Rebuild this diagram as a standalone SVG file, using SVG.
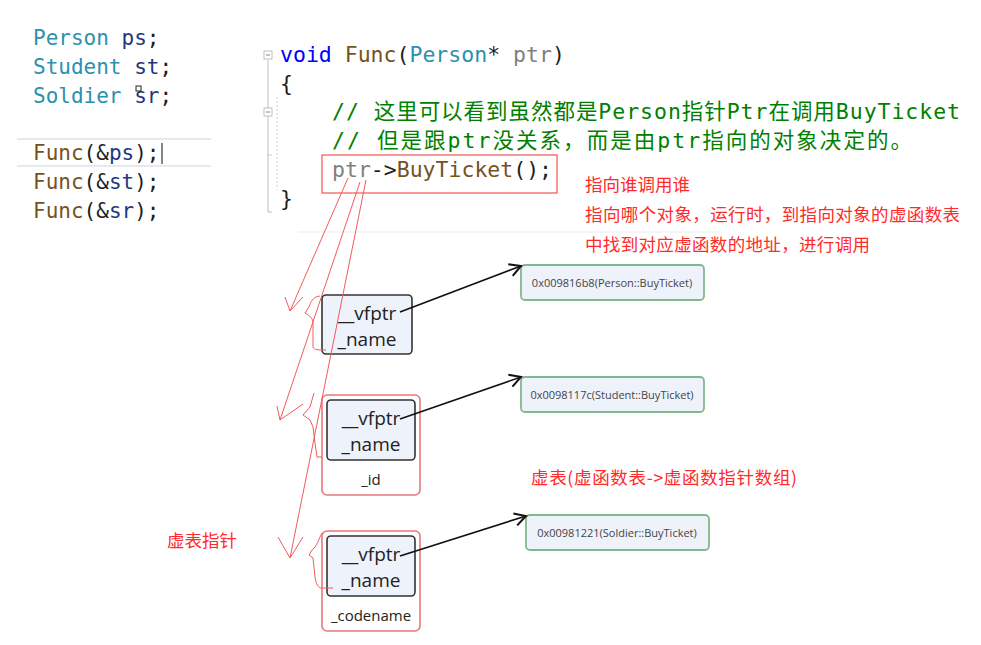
<svg xmlns="http://www.w3.org/2000/svg" width="981" height="645" viewBox="0 0 981 645">
<defs>
<style>
.code{font-family:"DejaVu Sans Mono","Noto Sans CJK SC",monospace;font-size:21px;}
.kw{fill:#0000ff}.fn{fill:#74531f}.ty{fill:#2b91af}.var{fill:#1f377f}.par{fill:#808080}.pun{fill:#1e1e1e}.cm{fill:#008000}
.note{font-family:"Noto Sans CJK SC","Noto Sans",sans-serif;font-size:17.5px;fill:#ff2a2a;}
.red{stroke:#f25a5a;stroke-width:1;fill:none;}
.obj{fill:#eef2fb;stroke:#333;stroke-width:1.6;}
.outer{fill:#fff;stroke:#e87878;stroke-width:1.6;}
.vt{fill:#eef2fb;stroke:#82b98a;stroke-width:1.8;}
.field{font-family:"Open Sans","Noto Sans",sans-serif;font-size:19px;fill:#222;text-anchor:middle;}
.field2{font-family:"Open Sans","Noto Sans",sans-serif;font-size:15px;fill:#222;text-anchor:middle;}
.addr{font-family:"Open Sans","Noto Sans",sans-serif;font-size:11px;fill:#444;text-anchor:middle;}
.arr{stroke:#111;stroke-width:1.6;fill:none;}
</style>
<marker id="ah" markerUnits="userSpaceOnUse" markerWidth="20" markerHeight="20" refX="0" refY="0" viewBox="-12 -8 14 16" orient="auto">
<path d="M-9,-5 L0,0 L-9,5" fill="none" stroke="#111" stroke-width="1.6"/>
</marker>
</defs>
<rect width="981" height="645" fill="#fff"/>

<!-- left code -->
<g id="left-code">
<line x1="17" y1="139" x2="211" y2="139" stroke="#e8e8f2" stroke-width="2"/>
<line x1="17" y1="166" x2="211" y2="166" stroke="#e8e8f2" stroke-width="2"/>
<text class="code" x="33" y="45"><tspan class="ty">Person</tspan> <tspan class="var">ps</tspan><tspan class="pun">;</tspan></text>
<text class="code" x="33" y="74"><tspan class="ty">Student</tspan> <tspan class="var">st</tspan><tspan class="pun">;</tspan></text>
<text class="code" x="33" y="103"><tspan class="ty">Soldier</tspan> <tspan class="var">sr</tspan><tspan class="pun">;</tspan></text>
<rect x="136" y="86" width="5" height="5" fill="#fff" stroke="#222" stroke-width="1"/>
<text class="code" x="33" y="160"><tspan class="fn">Func</tspan><tspan class="pun">(&amp;</tspan><tspan class="var">ps</tspan><tspan class="pun">);</tspan></text>
<line x1="162" y1="143" x2="162" y2="164" stroke="#333" stroke-width="1.2"/>
<text class="code" x="33" y="189"><tspan class="fn">Func</tspan><tspan class="pun">(&amp;</tspan><tspan class="var">st</tspan><tspan class="pun">);</tspan></text>
<text class="code" x="33" y="218"><tspan class="fn">Func</tspan><tspan class="pun">(&amp;</tspan><tspan class="var">sr</tspan><tspan class="pun">);</tspan></text>
</g>

<!-- right code -->
<g id="func-code">
<line x1="268" y1="60" x2="268" y2="212" stroke="#c8c8c8" stroke-width="1.2"/>
<line x1="268" y1="212" x2="272" y2="212" stroke="#c8c8c8" stroke-width="1.2"/>
<line x1="268" y1="155" x2="272" y2="155" stroke="#c8c8c8" stroke-width="1"/>
<line x1="277" y1="97" x2="277" y2="190" stroke="#d0d0d0" stroke-width="1" stroke-dasharray="2,2"/>
<rect x="264" y="51" width="8" height="8" fill="#fff" stroke="#b0b0b0" stroke-width="0.8"/>
<line x1="266" y1="55" x2="270" y2="55" stroke="#666" stroke-width="0.8"/>
<rect x="264" y="108" width="8" height="8" fill="#fff" stroke="#b0b0b0" stroke-width="0.8"/>
<line x1="266" y1="112" x2="270" y2="112" stroke="#666" stroke-width="0.8"/>
<text class="code" x="280" y="62" style="font-size:21.5px"><tspan class="kw">void</tspan> <tspan class="fn">Func</tspan><tspan class="pun">(</tspan><tspan class="ty">Person</tspan><tspan class="pun">*</tspan> <tspan class="par">ptr</tspan><tspan class="pun">)</tspan></text>
<text class="code pun" x="280" y="91" style="font-size:21.5px">{</text>
<text class="code cm" x="332" y="119" style="font-size:21.5px" textLength="628" lengthAdjust="spacing">// 这里可以看到虽然都是Person指针Ptr在调用BuyTicket</text>
<text class="code cm" x="332" y="148" style="font-size:21.5px" textLength="580" lengthAdjust="spacing">// 但是跟ptr没关系，而是由ptr指向的对象决定的。</text>
<rect x="322" y="155" width="235" height="38" fill="none" stroke="#ee5555" stroke-width="1.2"/>
<text class="code" x="332" y="177" style="font-size:21.5px"><tspan class="par">ptr</tspan><tspan class="pun">-&gt;</tspan><tspan class="fn">BuyTicket</tspan><tspan class="pun">();</tspan></text>
<text class="code pun" x="280" y="206" style="font-size:21.5px">}</text>
<line x1="298" y1="232" x2="722" y2="232" stroke="#ececec" stroke-width="1.2"/>
</g>

<!-- notes -->
<g id="notes">
<text class="note" x="585" y="191">指向谁调用谁</text>
<text class="note" x="585" y="221" textLength="375" lengthAdjust="spacing">指向哪个对象，运行时，到指向对象的虚函数表</text>
<text class="note" x="585" y="251" textLength="285" lengthAdjust="spacing">中找到对应虚函数的地址，进行调用</text>
<text class="note" x="531" y="484" textLength="266" lengthAdjust="spacing">虚表(虚函数表-&gt;虚函数指针数组)</text>
<text class="note" x="167" y="547">虚表指针</text>
</g>

<!-- objects -->
<g id="person-obj">
<rect class="obj" x="322" y="295" width="90" height="59" rx="4"/>
<text class="field" x="367" y="320">__vfptr</text>
<text class="field" x="367" y="346">_name</text>
</g>
<g id="student-obj">
<rect class="outer" x="322" y="395" width="98" height="100" rx="5"/>
<rect class="obj" x="327" y="400" width="88" height="60" rx="4"/>
<text class="field" x="371" y="425">__vfptr</text>
<text class="field" x="371" y="451">_name</text>
<text class="field2" x="371" y="485">_id</text>
</g>
<g id="soldier-obj">
<rect class="outer" x="322" y="531" width="98" height="100" rx="5"/>
<rect class="obj" x="327" y="536" width="88" height="60" rx="4"/>
<text class="field" x="371" y="561">__vfptr</text>
<text class="field" x="371" y="587">_name</text>
<text class="field2" x="371" y="621">_codename</text>
</g>

<!-- vtables -->
<g id="vt-person">
<rect class="vt" x="521" y="265" width="183" height="35" rx="4"/>
<text class="addr" x="612" y="287">0x009816b8(Person::BuyTicket)</text>
</g>
<g id="vt-student">
<rect class="vt" x="521" y="377" width="183" height="35" rx="4"/>
<text class="addr" x="612" y="399">0x0098117c(Student::BuyTicket)</text>
</g>
<g id="vt-soldier">
<rect class="vt" x="526" y="515" width="183" height="35" rx="4"/>
<text class="addr" x="617" y="537">0x00981221(Soldier::BuyTicket)</text>
</g>

<!-- connectors -->
<g id="connectors">
<line class="arr" x1="400" y1="312" x2="521" y2="266" marker-end="url(#ah)"/>
<line class="arr" x1="400" y1="419" x2="521" y2="377" marker-end="url(#ah)"/>
<line class="arr" x1="400" y1="556" x2="526" y2="516" marker-end="url(#ah)"/>

<path class="red" d="M348,178 L290,311 M285,297 L290,311 L303,297"/>
<path class="red" d="M360,182 L280,420 M277,406 L280,420 L303,404"/>
<path class="red" d="M366,180 L290,558 M278,537 L290,558 L303,537"/>

<path class="red" d="M320,296 C312,297 311,302 309,307 L305,313 C310,316 313,318 313,324 L313,347 C314,350 318,350 326,350"/>
<path class="red" d="M314,393 L310,407 L303,415 L310,420 L313,427 L315,443 L317,457 L322,457"/>
<path class="red" d="M322,533 C318,540 318,545 312,550 L309,555 L313,558 L315,577 C316,584 318,588 322,588 L333,588"/>
</g>
</svg>
